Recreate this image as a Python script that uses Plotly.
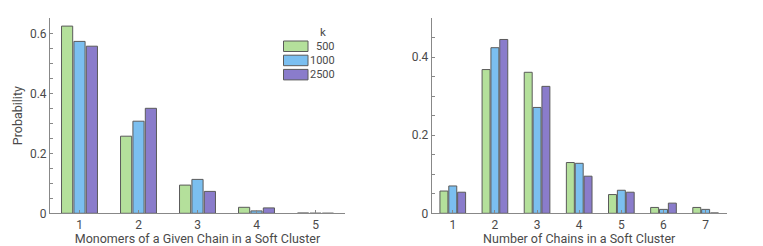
import plotly.graph_objects as go
from plotly.subplots import make_subplots

W, H = 763, 246

series_names = ["500", "1000", "2500"]
colors = ["#b4e09b", "#7bbff0", "#8a7ccb"]

left_categories = [1, 2, 3, 4, 5]
left_values = {
    "500":  [0.624, 0.257, 0.094, 0.020, 0.001],
    "1000": [0.573, 0.307, 0.113, 0.008, 0.0003],
    "2500": [0.557, 0.350, 0.073, 0.018, 0.0002],
}

right_categories = [1, 2, 3, 4, 5, 6, 7]
right_values = {
    "500":  [0.057, 0.368, 0.361, 0.130, 0.048, 0.015, 0.015],
    "1000": [0.070, 0.424, 0.271, 0.128, 0.059, 0.010, 0.010],
    "2500": [0.054, 0.445, 0.325, 0.095, 0.054, 0.026, 0.001],
}

left_xtitle = "Monomers of a Given Chain in a Soft Cluster"
right_xtitle = "Number of Chains in a Soft Cluster"
ytitle = "Probability"
legend_title = "k"

fig = make_subplots(rows=1, cols=2)

for name, col in zip(series_names, colors):
    fig.add_trace(go.Bar(x=left_categories, y=left_values[name], name=name,
                         marker=dict(color=col, line=dict(color="#5a5a5a", width=1)),
                         showlegend=False), row=1, col=1)
    fig.add_trace(go.Bar(x=right_categories, y=right_values[name], name=name,
                         marker=dict(color=col, line=dict(color="#5a5a5a", width=1)),
                         showlegend=False), row=1, col=2)

font_col = "#4a4a4a"
axis_common = dict(showgrid=False, zeroline=False, showline=True, linecolor="#888888",
                   linewidth=1, ticks="inside", ticklen=3, tickcolor="#888888",
                   automargin=False,
                   tickfont=dict(size=12, color=font_col),
                   title_font=dict(size=12.5, color=font_col))

def px_x(p):
    return p / W

def px_y(p):
    return 1 - p / H

fig.update_layout(
    width=W, height=H, margin=dict(l=0, r=0, t=0, b=0, autoexpand=False),
    paper_bgcolor="white", plot_bgcolor="white",
    font=dict(family="Roboto", color=font_col),
    barmode="group", bargap=0.37, bargroupgap=0.1,
    xaxis=dict(domain=[px_x(50), px_x(345)], range=[0.5, 5.5], tickvals=left_categories,
               title=dict(text=left_xtitle, standoff=2), **axis_common),
    xaxis2=dict(domain=[px_x(431.7), px_x(726.7)], range=[0.5, 7.5], tickvals=right_categories,
                title=dict(text=right_xtitle, standoff=2), **axis_common),
    yaxis=dict(domain=[px_y(213.3), px_y(18)], range=[0, 0.651], tickvals=[0, 0.2, 0.4, 0.6],
               ticktext=["0", "0.2", "0.4", "0.6"],
               minor=dict(dtick=0.05, ticks="inside", ticklen=3, tickcolor="#888888"),
               title=dict(text=ytitle, standoff=4), **axis_common),
    yaxis2=dict(domain=[px_y(213.3), px_y(18)], range=[0, 0.5], tickvals=[0, 0.2, 0.4],
                ticktext=["0", "0.2", "0.4"],
                minor=dict(dtick=0.05, ticks="inside", ticklen=3, tickcolor="#888888"),
                **axis_common),
)

# custom legend (wide swatches)
fig.add_annotation(x=px_x(323), y=px_y(32), xref="paper", yref="paper", text=legend_title,
                   showarrow=False, xanchor="center", yanchor="middle",
                   font=dict(size=11.5, color=font_col))
for i, (name, col) in enumerate(zip(series_names, colors)):
    top = 41 + i * 14.2
    fig.add_shape(type="rect", xref="paper", yref="paper",
                  x0=px_x(283.5), x1=px_x(308), y0=px_y(top + 10.5), y1=px_y(top),
                  fillcolor=col, line=dict(color="#5a5a5a", width=1))
    fig.add_annotation(x=px_x(337), y=px_y(top + 5.3), xref="paper", yref="paper",
                       text=name, showarrow=False, xanchor="right", yanchor="middle",
                       font=dict(size=11, color=font_col))

fig.write_html("out.html", config={"displayModeBar": False},
               post_script="document.body.style.margin='0';document.body.style.padding='0';")
